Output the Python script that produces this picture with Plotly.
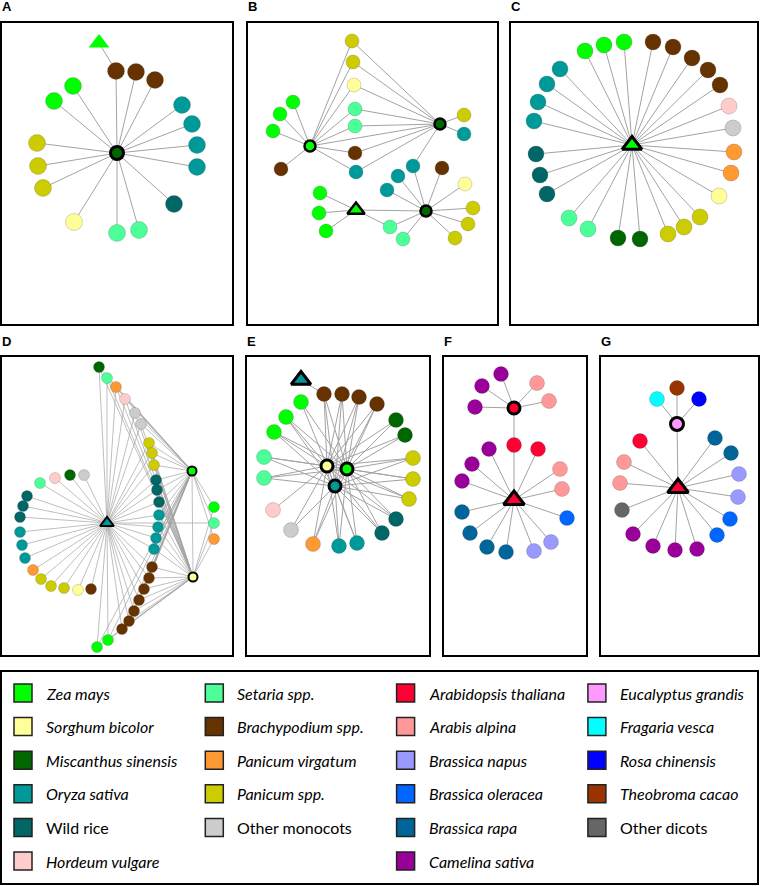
import plotly.graph_objects as go

W, H = 760, 886

# ---------------- species (legend) ----------------
sp_codes = ["Zm", "Sb", "Ms", "Os", "WR", "Hv",
            "Ss", "Bd", "Pv", "Ps", "OM",
            "At", "Aa", "Bn", "Bo", "Br", "Cs",
            "Eg", "Fv", "Rc", "Tc", "OD"]
sp_names = ["Zea mays", "Sorghum bicolor", "Miscanthus sinensis", "Oryza sativa", "Wild rice", "Hordeum vulgare",
            "Setaria spp.", "Brachypodium spp.", "Panicum virgatum", "Panicum spp.", "Other monocots",
            "Arabidopsis thaliana", "Arabis alpina", "Brassica napus", "Brassica oleracea", "Brassica rapa",
            "Camelina sativa",
            "Eucalyptus grandis", "Fragaria vesca", "Rosa chinensis", "Theobroma cacao", "Other dicots"]
sp_colors = ["#00ff00", "#ffff99", "#006600", "#009999", "#006666", "#ffcccc",
             "#4dff99", "#663300", "#ff9933", "#cccc00", "#cccccc",
             "#ff0033", "#ff9999", "#9999ff", "#0066ff", "#006699", "#990099",
             "#ff99ff", "#00ffff", "#0000ff", "#993300", "#666666"]
sp_italic = [True, True, True, True, False, True,
             True, True, True, True, False,
             True, True, True, True, True, True,
             True, True, True, True, False]
legend_col = [0, 0, 0, 0, 0, 0, 1, 1, 1, 1, 1, 2, 2, 2, 2, 2, 2, 3, 3, 3, 3, 3]
legend_row = [0, 1, 2, 3, 4, 5, 0, 1, 2, 3, 4, 0, 1, 2, 3, 4, 5, 0, 1, 2, 3, 4]
sp_color = dict(zip(sp_codes, sp_colors))


def star(hub, targets):
    return [(hub, t) for t in targets]


# ---------------- panel A ----------------
a_x = [115, 97, 114, 134, 153, 71, 52, 180, 190, 195, 195, 172, 137, 115, 72, 35, 36, 41]
a_y = [130, 20, 48, 49, 57, 63, 78, 82, 101, 122, 144, 181, 207, 210, 199, 120, 143, 165]
a_sp = ["Ms", "Zm", "Bd", "Bd", "Bd", "Zm", "Zm", "Os", "Os", "Os", "Os", "WR", "Ss", "Ss", "Sb", "Ps", "Ps", "Ps"]
a_role = ["h", "t"] + ["n"] * 16
a_edges = star(0, range(2, 18)) + [(1, 2)]

# ---------------- panel B ----------------
b_x = [62, 192, 178, 108, 104, 105, 106, 107, 107, 107, 108, 45, 32, 25, 33,
       216, 216, 165, 150, 139, 194, 217, 225, 220, 207, 155, 142, 72, 71, 78]
b_y = [123, 101, 188, 187, 18, 39, 62, 86, 103, 130, 149, 79, 91, 108, 146,
       92, 111, 143, 153, 167, 145, 161, 185, 201, 215, 216, 204, 170, 190, 208]
b_sp = ["Zm", "Ms", "Ms", "Zm", "Ps", "Ps", "Sb", "Ss", "Ss", "Bd", "Os", "Zm", "Zm", "Zm", "Bd",
        "Ps", "Os", "Os", "Os", "Os", "Bd", "Sb", "Ps", "Ps", "Ps", "Ss", "Ss", "Zm", "Zm", "Zm"]
b_role = ["h", "h", "h", "q"] + ["n"] * 26
b_edges = (star(0, [4, 5, 6, 7, 8, 9, 10, 11, 12, 13, 14, 1])
           + star(1, [4, 5, 6, 7, 8, 9, 10, 15, 16, 17])
           + star(2, [17, 18, 19, 20, 21, 22, 23, 24, 25, 26, 3])
           + star(3, [27, 28, 29, 26]))

# ---------------- panel C ----------------
c_x = [121, 74, 93, 113, 142, 162, 181, 197, 209, 218, 222, 223, 220, 208,
       189, 173, 157, 129, 107, 77, 58, 36, 29, 25, 23, 27, 36, 49]
c_y = [122, 28, 22, 19, 19, 24, 35, 47, 62, 83, 105, 129, 150, 173,
       194, 204, 211, 216, 215, 206, 195, 171, 152, 131, 98, 79, 61, 46]
c_sp = ["Zm", "Zm", "Zm", "Zm", "Bd", "Bd", "Bd", "Bd", "Bd", "Hv", "OM", "Pv", "Pv", "Sb",
        "Ps", "Ps", "Ps", "Ms", "Ms", "Ss", "Ss", "WR", "WR", "WR", "Os", "Os", "Os", "Os"]
c_role = ["q"] + ["n"] * 27
c_edges = star(0, range(1, 28))

# ---------------- panel D ----------------
d_x = [105, 190, 191, 212, 212, 212,
       82, 68, 53, 38, 25, 21, 18, 18, 20, 23, 31, 39, 49, 62, 76, 89,
       97, 105, 114, 123, 133, 139, 147, 150, 152, 154, 155, 157, 157, 156, 154, 152,
       150, 147, 142, 137, 132, 127, 120, 106, 95]
d_y = [166, 114, 220, 150, 166, 182,
       118, 118, 121, 126, 139, 149, 160, 175, 188, 201, 213, 222, 229, 231, 233, 232,
       10, 21, 30, 42, 56, 67, 86, 96, 108, 123, 133, 145, 158, 170, 181, 192,
       210, 221, 232, 243, 254, 264, 272, 283, 290]
d_sp = ["Os", "Zm", "Sb", "Zm", "Ss", "Pv",
        "OM", "Ms", "Hv", "Ss", "WR", "WR", "WR", "Os", "Os", "Os", "Pv", "Ps", "Ps", "Ps", "Sb", "Bd",
        "Ms", "Ss", "Pv", "Hv", "OM", "OM", "Ps", "Ps", "Ps", "WR", "WR", "WR", "Os", "Os", "Os", "Os",
        "Bd", "Bd", "Bd", "Bd", "Bd", "Bd", "Bd", "Zm", "Zm"]
d_role = ["q", "h", "h"] + ["n"] * 44
d_edges = (star(0, [4] + list(range(6, 47)))
           + star(1, [2, 3, 4, 5] + list(range(22, 47)))
           + star(2, [3, 4, 5] + list(range(22, 47))))

# ---------------- panel E ----------------
e_x = [54, 80, 100, 88, 77, 95, 112, 130, 149, 158, 166, 166, 162, 149, 135, 110, 92, 66, 44, 26, 17, 17, 27, 39, 54]
e_y = [23, 109, 112, 129, 37, 37, 40, 47, 63, 78, 101, 122, 142, 162, 176, 186, 189, 187, 173, 153, 121, 100, 75, 60, 45]
e_sp = ["Os", "Sb", "Zm", "Os", "Bd", "Bd", "Bd", "Bd", "Ms", "Ms", "Ps", "Ps", "Ps", "WR", "WR",
        "Os", "Os", "Pv", "OM", "Hv", "Ss", "Ss", "Zm", "Zm", "Zm"]
e_role = ["q", "h", "h", "h"] + ["n"] * 21
e_edges = ([(0, 4), (1, 2), (1, 3), (2, 3)]
           + star(1, range(4, 25))
           + star(2, [4, 5, 6, 7, 8, 9, 10, 11, 12, 13, 14, 15, 16, 17, 20, 21, 22, 23, 24])
           + star(3, [4, 5, 6, 7, 10, 11, 12, 13, 14, 15, 16, 17, 18, 20, 21, 22, 23]))

# ---------------- panel F ----------------
f_x = [70, 70, 57, 38, 31, 93, 105, 70, 94, 45, 28, 18, 18, 26, 43, 62, 90, 107, 123, 118, 116]
f_y = [51, 143, 17, 29, 50, 26, 44, 88, 92, 92, 107, 124, 155, 176, 190, 195, 194, 185, 161, 132, 112]
f_sp = ["At", "At", "Cs", "Cs", "Cs", "Aa", "Aa", "At", "At", "Cs", "Cs", "Cs", "Br", "Br", "Br", "Br",
        "Bn", "Bn", "Bo", "Aa", "Aa"]
f_role = ["h", "q"] + ["n"] * 19
f_edges = star(0, [2, 3, 4, 5, 6, 7]) + star(1, range(7, 21))

# ---------------- panel G ----------------
g_x = [76, 77, 56, 76, 98, 39, 23, 19, 21, 32, 52, 74, 96, 116, 129, 137, 138, 130, 114]
g_y = [67, 131, 42, 31, 42, 84, 105, 126, 153, 177, 189, 193, 192, 178, 162, 140, 117, 96, 81]
g_sp = ["Eg", "At", "Fv", "Tc", "Rc", "At", "Aa", "Aa", "OD", "Cs", "Cs", "Cs", "Cs", "Bo", "Bo",
        "Bn", "Bn", "Br", "Br"]
g_role = ["h", "q"] + ["n"] * 17
g_edges = star(0, [2, 3, 4, 1]) + star(1, range(5, 19))

panels = [
    ("A", a_x, a_y, a_sp, a_role, a_edges),
    ("B", b_x, b_y, b_sp, b_role, b_edges),
    ("C", c_x, c_y, c_sp, c_role, c_edges),
    ("D", d_x, d_y, d_sp, d_role, d_edges),
    ("E", e_x, e_y, e_sp, e_role, e_edges),
    ("F", f_x, f_y, f_sp, f_role, f_edges),
    ("G", g_x, g_y, g_sp, g_role, g_edges),
]

# layout: panel boxes in page pixels (x0, y0, x1, y1)
boxes = {
    "A": (2, 23, 232, 324), "B": (248, 23, 497, 324), "C": (511, 23, 757, 324),
    "D": (2, 357, 232, 655), "E": (247, 357, 429, 655), "F": (444, 357, 586, 655),
    "G": (601, 357, 758, 655),
}
legend_box = (2, 672, 757, 883)

style = {
    "A": dict(node=17, hub=13, hub_lw=3, tri=16, tri_lw=3, edge=1),
    "B": dict(node=14, hub=11, hub_lw=2.5, tri=15, tri_lw=2.5, edge=1),
    "C": dict(node=16, hub=12, hub_lw=3, tri=17, tri_lw=3, edge=1),
    "D": dict(node=11, hub=9, hub_lw=2, tri=12, tri_lw=2, edge=0.7),
    "E": dict(node=15, hub=12, hub_lw=3, tri=17, tri_lw=3, edge=1),
    "F": dict(node=15, hub=12, hub_lw=3, tri=18, tri_lw=3, edge=1),
    "G": dict(node=15, hub=13, hub_lw=3, tri=18, tri_lw=3, edge=1),
}
EDGE = "#a3a3a3"

fig = go.Figure()
layout_axes = {}
annotations = []


def axis_names(k):
    return ("x" if k == 1 else f"x{k}"), ("y" if k == 1 else f"y{k}")


def box_axes(k, x0, y0, x1, y1, xr, yr):
    xa, ya = axis_names(k)
    common = dict(showline=True, mirror=True, linecolor="black", linewidth=2,
                  showgrid=False, zeroline=False, showticklabels=False, ticks="", fixedrange=True)
    layout_axes["xaxis" if k == 1 else f"xaxis{k}"] = dict(
        domain=[x0 / W, x1 / W], range=xr, anchor=ya, **common)
    layout_axes["yaxis" if k == 1 else f"yaxis{k}"] = dict(
        domain=[1 - y1 / H, 1 - y0 / H], range=yr, anchor=xa, **common)


for k, (name, px, py, psp, prole, pedges) in enumerate(panels, start=1):
    x0, y0, x1, y1 = boxes[name]
    box_axes(k, x0, y0, x1, y1, [0, x1 - x0], [y1 - y0, 0])
    xa, ya = axis_names(k)
    st = style[name]

    ex, ey = [], []
    for i, j in pedges:
        ex += [px[i], px[j], None]
        ey += [py[i], py[j], None]
    fig.add_trace(go.Scatter(x=ex, y=ey, mode="lines", xaxis=xa, yaxis=ya, hoverinfo="skip",
                             line=dict(color=EDGE, width=st["edge"]), showlegend=False))

    markers = {
        "n": dict(symbol="circle", size=st["node"], line=dict(color="rgba(60,60,60,0.35)", width=0.6)),
        "h": dict(symbol="circle", size=st["hub"], line=dict(color="black", width=st["hub_lw"])),
        "q": dict(symbol="triangle-up", size=st["tri"], line=dict(color="black", width=st["tri_lw"])),
        "t": dict(symbol="triangle-up", size=st["tri"] + 2, line=dict(width=0)),
    }
    for role in ["n", "h", "q", "t"]:
        idx = [i for i, r in enumerate(prole) if r == role]
        if not idx:
            continue
        m = dict(markers[role])
        m["color"] = [sp_color[psp[i]] for i in idx]
        fig.add_trace(go.Scatter(x=[px[i] for i in idx], y=[py[i] for i in idx], mode="markers",
                                 marker=m, xaxis=xa, yaxis=ya, showlegend=False,
                                 text=[sp_names[sp_codes.index(psp[i])] for i in idx], hoverinfo="text"))

    annotations.append(dict(text=f"<b>{name}</b>", xref=f"{xa} domain", yref=f"{ya} domain",
                            x=0, y=1, xanchor="left", yanchor="middle", xshift=-2, yshift=16,
                            showarrow=False, font=dict(family="Liberation Sans, Arial", size=13, color="black")))

# ---------------- legend panel ----------------
k = len(panels) + 1
lx0, ly0, lx1, ly1 = legend_box
col_step, row_step = 191.3, 33.6
first_x, first_y = 23, 693
box_axes(k, lx0, ly0, lx1, ly1,
         [(lx0 - first_x) / col_step, (lx1 - first_x) / col_step],
         [(ly1 - first_y) / row_step, (ly0 - first_y) / row_step])
xa, ya = axis_names(k)
fig.add_trace(go.Scatter(x=legend_col, y=legend_row, mode="markers", xaxis=xa, yaxis=ya,
                         marker=dict(symbol="square", size=18, color=sp_colors,
                                     line=dict(color="#222222", width=1.5)),
                         text=sp_names, hoverinfo="text", showlegend=False))
for name, c, r, it in zip(sp_names, legend_col, legend_row, sp_italic):
    annotations.append(dict(text=f"<i>{name}</i>" if it else name, x=c + 21 / col_step, y=r,
                            xref=xa, yref=ya, xanchor="left", yanchor="middle", showarrow=False,
                            font=dict(family="Lato, Open Sans, sans-serif", size=16, color="black")))

fig.update_layout(
    width=W, height=H,
    margin=dict(l=0, r=0, t=0, b=0),
    paper_bgcolor="white", plot_bgcolor="white",
    annotations=annotations,
    **layout_axes,
)

fig.write_html("out.html", config={"displayModeBar": False},
               post_script="document.body.style.margin='0';")
